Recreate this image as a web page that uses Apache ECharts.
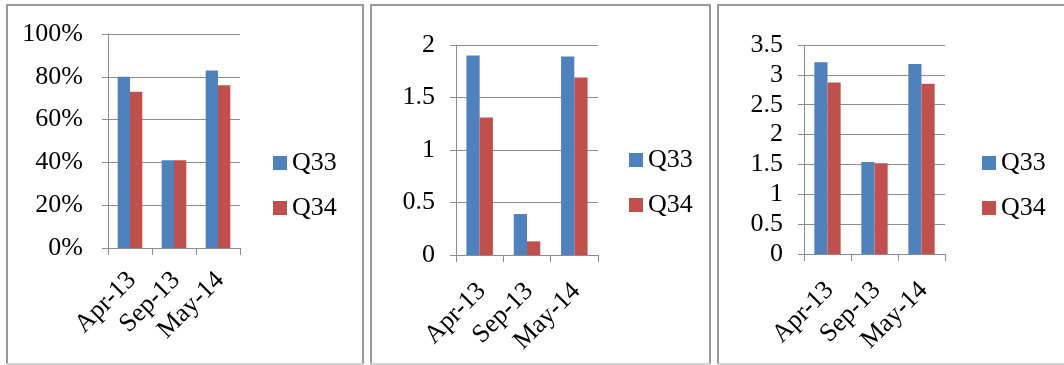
<!DOCTYPE html>
<html>
<head>
<meta charset="utf-8">
<title>Q33 / Q34</title>
<script src="https://cdn.jsdelivr.net/npm/echarts@6/dist/echarts.min.js"></script>
<style>
  html, body { margin: 0; padding: 0; background: #fff; }
  #chart { width: 1064px; height: 365px; }
</style>
</head>
<body>
<div id="chart"></div>
<script>
// Survey waves shown on every panel
const categories = ['Apr-13', 'Sep-13', 'May-14'];
const seriesNames = ['Q33', 'Q34'];

// Panel 1: share of respondents (%)
const shareQ33 = [80, 41, 83];
const shareQ34 = [73, 41, 76];

// Panel 2: score on a 0–2 scale
const scoreQ33 = [1.9, 0.39, 1.89];
const scoreQ34 = [1.31, 0.13, 1.69];

// Panel 3: rating on a 0–3.5 scale
const ratingQ33 = [3.21, 1.54, 3.18];
const ratingQ34 = [2.87, 1.52, 2.85];

// Value-axis ranges and steps
const yMax = [100, 2, 3.5];
const yStep = [20, 0.5, 0.5];

const FONT = "'Liberation Serif', 'Times New Roman', serif";
const BLUE = '#4F81BD';
const RED = '#C0504D';
const GRID_GRAY = '#8c8c8c';

const panels = [
  { grid: { left: 108, top: 34, width: 132, height: 214 }, labelGap: 25, catGap: 12, legend: { left: 273, top: 150 },
    data: [shareQ33, shareQ34], fmt: '{value}%' },
  { grid: { left: 456, top: 45, width: 142, height: 210 }, labelGap: 21, catGap: 16, legend: { left: 629, top: 147 },
    data: [scoreQ33, scoreQ34], fmt: '{value}' },
  { grid: { left: 804, top: 45, width: 141, height: 209 }, labelGap: 21, catGap: 16, legend: { left: 982, top: 150 },
    data: [ratingQ33, ratingQ34], fmt: '{value}' }
];

const textBase = { color: '#000', fontFamily: FONT, fontSize: 26 };

const option = {
  backgroundColor: '#fff',
  animation: false,
  color: [BLUE, RED],
  grid: panels.map(p => Object.assign({}, p.grid)),
  legend: panels.map(p => ({
    data: seriesNames,
    orient: 'vertical',
    left: p.legend.left,
    top: p.legend.top,
    icon: 'rect',
    itemWidth: 14,
    itemHeight: 14,
    itemGap: 19,
    itemTextGap: 6,
    padding: 0,
    selectedMode: false,
    textStyle: Object.assign({}, textBase, { lineHeight: 25, padding: 0 })
  })),
  xAxis: panels.map((p, i) => ({
    type: 'category',
    gridIndex: i,
    data: categories,
    axisLine: { show: true, lineStyle: { color: GRID_GRAY, width: 1 } },
    axisTick: { show: true, length: 7, interval: 0, lineStyle: { color: GRID_GRAY } },
    axisLabel: Object.assign({}, textBase, {
      interval: 0,
      rotate: 45,
      align: 'right',
      verticalAlign: 'top',
      padding: [0, 10, 0, 0],
      margin: p.catGap
    }),
    splitLine: { show: false }
  })),
  yAxis: panels.map((p, i) => ({
    type: 'value',
    gridIndex: i,
    min: 0,
    max: yMax[i],
    interval: yStep[i],
    axisLine: { show: true, lineStyle: { color: GRID_GRAY, width: 1 } },
    axisTick: { show: true, length: 6, lineStyle: { color: GRID_GRAY } },
    axisLabel: Object.assign({}, textBase, { margin: p.labelGap, formatter: p.fmt }),
    splitLine: { show: true, lineStyle: { color: GRID_GRAY, width: 1 } }
  })),
  series: panels.flatMap((p, i) => seriesNames.map((name, k) => ({
    name: name,
    type: 'bar',
    xAxisIndex: i,
    yAxisIndex: i,
    data: p.data[k],
    barGap: '0%',
    barCategoryGap: '44%',
    itemStyle: { color: k === 0 ? BLUE : RED }
  }))),
  // Frames around the three panels
  graphic: [
    [7, 363], [371, 710], [718, 1070]
  ].flatMap(([x0, x1]) => [
    { type: 'polyline', silent: true, z: 100,
      shape: { points: [[x0, 364], [x0, 5], [x1, 5], [x1, 364]] },
      style: { stroke: '#999', lineWidth: 2, fill: null } },
    { type: 'line', silent: true, z: 100,
      shape: { x1: x0, y1: 364, x2: x1, y2: 364 },
      style: { stroke: '#d4d4d4', lineWidth: 2 } }
  ])
};

const chart = echarts.init(document.getElementById('chart'), null, { renderer: 'canvas' });
chart.setOption(option);
</script>
</body>
</html>
